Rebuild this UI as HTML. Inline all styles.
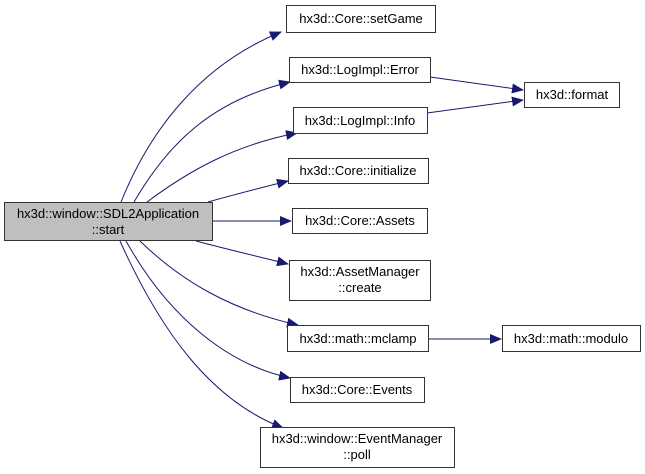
<!DOCTYPE html>
<html><head><meta charset="utf-8"><style>
html,body{margin:0;padding:0;background:#fff;width:645px;height:474px;overflow:hidden}
text{font-family:"Liberation Sans",sans-serif;font-size:13px;fill:#000}
</style></head><body>
<svg width="645" height="474" viewBox="0 0 645 474" xmlns="http://www.w3.org/2000/svg">
<defs><marker id="a" markerWidth="12" markerHeight="10" refX="11" refY="5" orient="auto" markerUnits="userSpaceOnUse"><path d="M0,0 L12,5 L0,10 z" fill="#191970"/></marker></defs>
<g fill="none" stroke="#191970" stroke-width="1" marker-end="url(#a)">
<path d="M121,202 C150,130 200,65 281,32"/>
<path d="M134,202 C170,140 215,100 290,82"/>
<path d="M147,202 C190,170 235,145 297,133"/>
<path d="M208,202 C240,193 260,188 288,181"/>
<path d="M212,221 L291,221"/>
<path d="M196,241 C230,250 260,257 288,264"/>
<path d="M140,241 C180,280 230,310 298,325"/>
<path d="M126,241 C170,320 230,365 290,378"/>
<path d="M120,241 C160,330 210,400 283,428"/>
<path d="M430,77 C465,82 495,86 523,90"/>
<path d="M427,113 C465,108 495,104 523,100"/>
<path d="M428,339 L501,339"/>
</g>
<g stroke="#333" stroke-width="1">
<rect x="4.5" y="202.5" width="208" height="38" fill="#bfbfbf"/>
<rect x="286.5" y="5.5" width="149" height="27" fill="#fff"/>
<rect x="289.5" y="57.5" width="141" height="25" fill="#fff"/>
<rect x="524.5" y="82.5" width="95" height="25" fill="#fff"/>
<rect x="293.5" y="107.5" width="134" height="26" fill="#fff"/>
<rect x="288.5" y="158.5" width="140" height="25" fill="#fff"/>
<rect x="292.5" y="208.5" width="135" height="25" fill="#fff"/>
<rect x="289.5" y="260.5" width="141" height="40" fill="#fff"/>
<rect x="287.5" y="325.5" width="141" height="26" fill="#fff"/>
<rect x="502.5" y="325.5" width="138" height="26" fill="#fff"/>
<rect x="290.5" y="377.5" width="134" height="25" fill="#fff"/>
<rect x="260.5" y="427.5" width="194" height="40" fill="#fff"/>
</g>
<g text-anchor="middle">
<text x="108" y="218">hx3d::window::SDL2Application</text>
<text x="108" y="234">::start</text>
<text x="361" y="23">hx3d::Core::setGame</text>
<text x="360" y="74">hx3d::LogImpl::Error</text>
<text x="572" y="99">hx3d::format</text>
<text x="360" y="125">hx3d::LogImpl::Info</text>
<text x="358" y="175">hx3d::Core::initialize</text>
<text x="360" y="225">hx3d::Core::Assets</text>
<text x="360" y="276">hx3d::AssetManager</text>
<text x="360" y="292">::create</text>
<text x="358" y="343">hx3d::math::mclamp</text>
<text x="571" y="343">hx3d::math::modulo</text>
<text x="357" y="394">hx3d::Core::Events</text>
<text x="357" y="443">hx3d::window::EventManager</text>
<text x="357" y="459">::poll</text>
</g>
</svg>
</body></html>
